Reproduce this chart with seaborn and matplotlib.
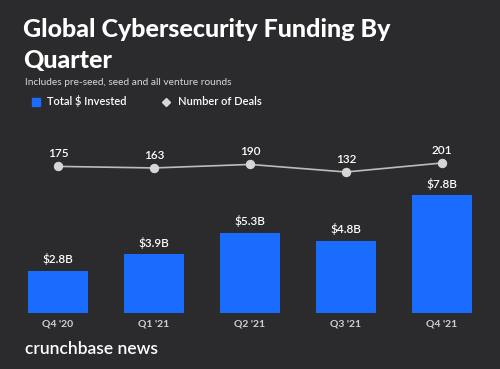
import matplotlib
matplotlib.use("Agg")
import matplotlib.pyplot as plt
import seaborn as sns
import pandas as pd
import numpy as np

quarters = ["Q4 '20", "Q1 '21", "Q2 '21", "Q3 '21", "Q4 '21"]
invested = [2.8, 3.9, 5.3, 4.8, 7.8]
invested_labels = ["$2.8B", "$3.9B", "$5.3B", "$4.8B", "$7.8B"]
deals = [175, 163, 190, 132, 201]

BG = "#2b2b2d"
BLUE = "#1a6cff"
LINE = "#bdbdbd"
MARK = "#d6d6d6"

sns.set_theme(style="dark")
plt.rcParams['font.family'] = ['Lato', 'DejaVu Sans']

W, H = 500, 369
fig = plt.figure(figsize=(5, 3.69), dpi=100, facecolor=BG)

ax_left = 10 / W
ax_bottom = (H - 313) / H
ax_top = (H - 150) / H
ax = fig.add_axes([ax_left, ax_bottom, 480 / W, ax_top - ax_bottom])
ax.set_facecolor(BG)

df = pd.DataFrame({"quarter": quarters, "invested": invested, "deals": deals})
sns.barplot(data=df, x="quarter", y="invested", color=BLUE, width=0.625,
            saturation=1, linewidth=0, edgecolor=BLUE, ax=ax)
ax.set_xlim(-0.5, 4.5)
ax.set_ylim(0, 163 / 15.1)
for i, (v, lab) in enumerate(zip(invested, invested_labels)):
    ax.annotate(lab, (i, v), xytext=(0, 4), textcoords="offset points",
                ha="center", va="bottom", color="white", fontsize=8.5,
                fontweight="semibold")

ax2 = ax.twinx()
ax2.set_facecolor("none")
sns.lineplot(x=np.arange(len(quarters)), y=deals, ax=ax2, color=LINE, lw=1.2,
             marker="o", markersize=6, markerfacecolor=MARK, markeredgecolor=MARK)
ax2.set_ylim(132 - 141 / 0.1304, 201 + 13 / 0.1304)
for i, d in enumerate(deals):
    ax2.annotate(str(d), (i, d), xytext=(0, 5), textcoords="offset points",
                 ha="center", va="bottom", color="white", fontsize=8.5,
                 fontweight="semibold")

for a in (ax, ax2):
    a.set_xlabel("")
    a.set_ylabel("")
    a.set_yticks([])
    for s in a.spines.values():
        s.set_visible(False)
    a.grid(False)
ax.tick_params(axis="x", colors="#d0d0d0", labelsize=7.5, length=0, pad=5)
for t in ax.get_xticklabels():
    t.set_fontweight("bold")

fig.text(23 / W, 1 - 37 / H, "Global Cybersecurity Funding By", color="white",
         fontsize=18, fontweight="black", ha="left", va="baseline")
fig.text(23 / W, 1 - 68 / H, "Quarter", color="white",
         fontsize=18, fontweight="black", ha="left", va="baseline")
fig.text(25 / W, 1 - 85 / H, "Includes pre-seed, seed and all venture rounds",
         color="#d8d8d8", fontsize=7.3, ha="left", va="baseline")

# legend
fig.patches.append(plt.Rectangle((32 / W, 1 - 106 / H), 8 / W, 8 / H,
                                 transform=fig.transFigure, color=BLUE))
fig.text(47 / W, 1 - 105 / H, "Total $ Invested", color="white", fontsize=8,
         fontweight="semibold", ha="left", va="baseline")
fig.lines.append(plt.Line2D([166 / W], [1 - 102 / H], marker="D", markersize=4,
                            color=MARK, transform=fig.transFigure))
fig.text(178 / W, 1 - 105 / H, "Number of Deals", color="white", fontsize=8,
         fontweight="semibold", ha="left", va="baseline")

fig.text(25 / W, 1 - 354 / H, "crunchbase news", color="white", fontsize=12.5,
         fontweight="semibold", ha="left", va="baseline")

fig.savefig("out.png", dpi=100, facecolor=BG)
